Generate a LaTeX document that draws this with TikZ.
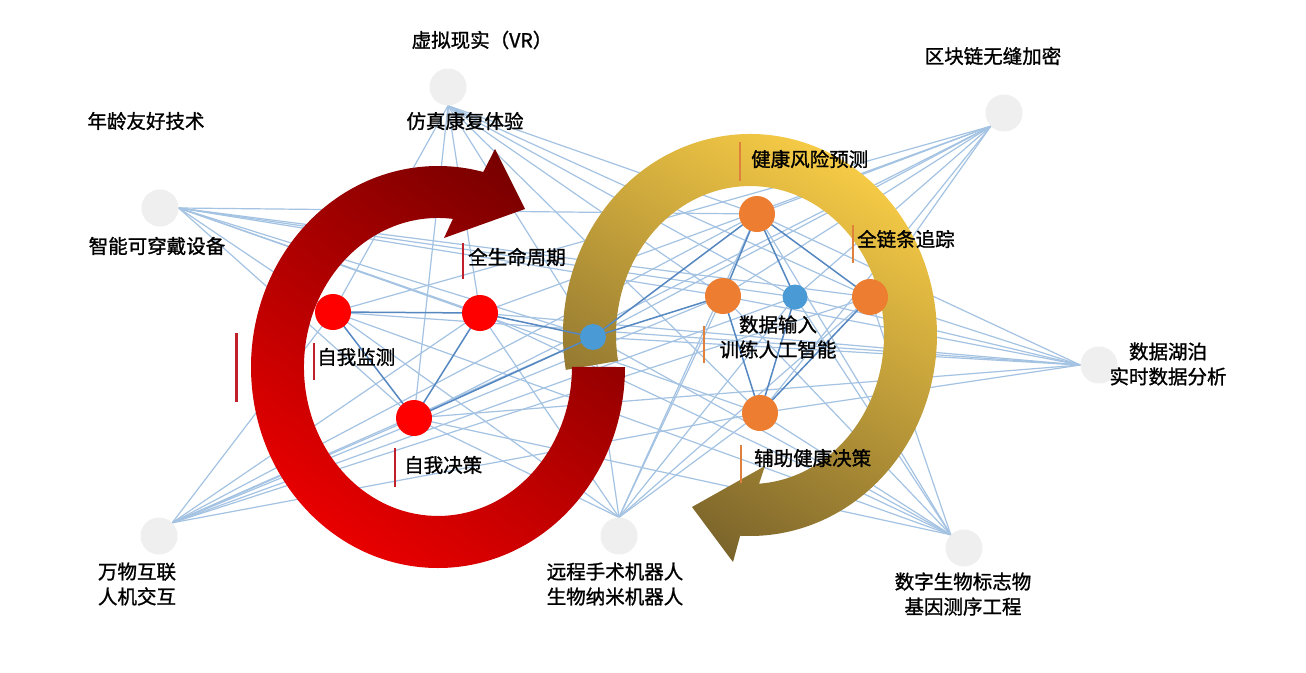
\documentclass[tikz,border=0pt]{standalone}
\usepackage{fontspec}
\newfontfamily\cjk[FakeBold=1.2]{Noto Sans CJK SC}
\pgfdeclarelayer{lines}
\pgfdeclarelayer{arrows}
\pgfdeclarelayer{dlines}
\pgfsetlayers{lines,arrows,dlines,main}
\definecolor{lineL}{HTML}{A4C3E3}
\definecolor{lineD}{HTML}{5587C1}
\definecolor{greyC}{HTML}{EFEFEF}
\definecolor{redN}{HTML}{FF0000}
\definecolor{orangeN}{HTML}{ED7D31}
\definecolor{blueN}{HTML}{4A9AD5}
\definecolor{barR}{HTML}{C0202A}
\definecolor{barO}{HTML}{E0803D}
\definecolor{redDark}{HTML}{780000}
\definecolor{redBright}{HTML}{E80000}
\definecolor{goldTop}{HTML}{F9CD46}
\definecolor{goldBot}{HTML}{76602A}
\begin{document}
\begin{tikzpicture}[x=1pt,y=-1pt,
  outer/.style={circle,fill=greyC,minimum size=37pt,inner sep=0pt},
  rnode/.style={circle,fill=redN,minimum size=36pt,inner sep=0pt},
  onode/.style={circle,fill=orangeN,minimum size=36pt,inner sep=0pt},
  bnode/.style={circle,fill=blueN,inner sep=0pt},
  lbl/.style={font=\cjk\fontsize{19.5}{25}\selectfont,text=black,inner sep=0pt,align=center},
  light/.style={draw=lineL,line width=1.2pt},
  dark/.style={draw=lineD,line width=1.5pt},
  rbar/.style={draw=barR,line width=2pt},
  obar/.style={draw=barO,line width=2pt}]
\useasboundingbox (0,0) rectangle (1306,672);
% outer nodes
\node[outer] (vr) at (448,87) {};
\node[outer] (wear) at (160,208) {};
\node[outer] (chain) at (1004,113) {};
\node[outer] (lake) at (1099,365) {};
\node[outer] (iot) at (159,536) {};
\node[outer] (surg) at (619,536) {};
\node[outer] (bio) at (964,548) {};
% inner nodes
\node[rnode] (r1) at (333,312) {};
\node[rnode] (r2) at (480,313) {};
\node[rnode] (r3) at (414,418) {};
\node[bnode,minimum size=26pt] (b1) at (593,337) {};
\node[bnode,minimum size=25pt] (b2) at (795,297) {};
\node[onode] (o1) at (757,214) {};
\node[onode] (o2) at (723,296) {};
\node[onode] (o3) at (870,297) {};
\node[onode] (o4) at (760,413) {};
% light mesh
\begin{pgfonlayer}{lines}
\fill[white] (0,0) rectangle (1306,672);
\foreach \s in {vr.south,wear.east,chain.-135,lake.west,iot.45,surg.north,bio.135}
  \foreach \t in {r1,r2,r3,b1,b2,o1,o2,o3,o4}
    \draw[light] (\s) -- (\t.center);
\end{pgfonlayer}
% arrows
\begin{pgfonlayer}{arrows}
\shade[top color=goldTop,bottom color=goldBot,shading angle=-30]
  (565.8,369.9) arc[start angle=190,end angle=-93,x radius=187pt,y radius=201pt]
  -- (733,562) -- (692,507) -- (765,466) -- (759.0,483.7)
  arc[start angle=-86.15,end angle=190,x radius=134pt,y radius=149pt] -- cycle;
\shade[top color=redDark,bottom color=redBright,shading angle=-35]
  (625,367) arc[start angle=0,end angle=-284,x radius=187pt,y radius=201pt]
  -- (495,149) -- (525,209) -- (444,238) -- (452.9,218.9)
  arc[start angle=-276.4,end angle=0,x radius=134pt,y radius=149pt] -- cycle;
\end{pgfonlayer}
% dark inner links
\begin{pgfonlayer}{dlines}
\foreach \a/\b in {r1/r2,r1/r3,r2/r3,r2/b1,r3/b1,b1/o1,b1/o2,o1/o2,o1/b2,o1/o3,o2/o4,b2/o4,o3/o4}
  \draw[dark] (\a.center) -- (\b.center);
\end{pgfonlayer}
% labels
\node[lbl] (tvr) at (482,40) {虚拟现实（VR）};
\node[lbl] (tvr2) at (465,121) {仿真康复体验};
\node[lbl] (tchain) at (993,56) {区块链无缝加密};
\node[lbl] (tage) at (146,121) {年龄友好技术};
\node[lbl] (twear) at (157,246) {智能可穿戴设备};
\node[lbl,anchor=west] (tlife) at (468,257) {全生命周期};
\node[lbl,anchor=west] (tmon) at (317,357) {自我监测};
\node[lbl,anchor=west] (tdec) at (404,465) {自我决策};
\node[lbl,anchor=west] (trisk) at (751,159) {健康风险预测};
\node[lbl,anchor=west] (ttrack) at (857,239) {全链条追踪};
\node[lbl] (tai) at (778,337) {数据输入\\训练人工智能};
\node[lbl,anchor=west] (taid) at (754,458) {辅助健康决策};
\node[lbl] (tlake) at (1168,364) {数据湖泊\\实时数据分析};
\node[lbl] (tiot) at (137,584) {万物互联\\人机交互};
\node[lbl] (tsurg) at (615,584) {远程手术机器人\\生物纳米机器人};
\node[lbl] (tbio) at (963,594) {数字生物标志物\\基因测序工程};
% bars
\draw[rbar] (463,243) -- (463,279);
\draw[rbar] (314,343) -- (314,380);
\draw[rbar] (395,448) -- (395,487);
\draw[rbar,line width=3pt] (236,333) -- (236,402);
\draw[obar] (740,142) -- (740,181);
\draw[obar] (853,225) -- (853,263);
\draw[obar] (704,326) -- (704,363);
\draw[obar] (741,445) -- (741,483);
\end{tikzpicture}
\end{document}
